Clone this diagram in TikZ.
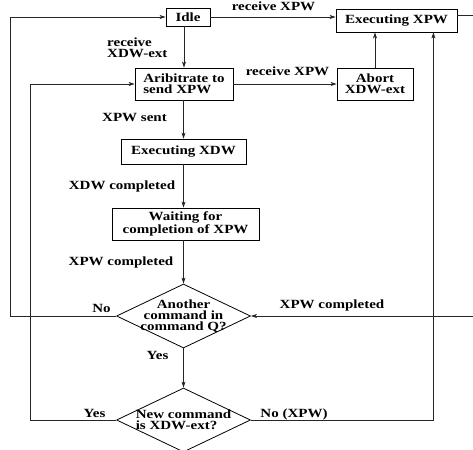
\documentclass[tikz,border=0pt]{standalone}
\usepackage{fontspec}
\setmainfont{Liberation Serif}[FakeStretch=1.2]
\usetikzlibrary{shapes.geometric,arrows.meta}
\tikzset{
  base/.style={font=\fontsize{12.5}{11.5}\selectfont\bfseries, inner sep=0pt},
  box/.style={base, draw=black, line width=0.8pt, rectangle},
  dia/.style={draw=black, line width=0.8pt, diamond, minimum width=134pt, minimum height=64pt, inner sep=0pt},
  lbl/.style={base},
  conn/.style={line width=0.8pt, draw=black!85, -{Stealth[length=6pt,width=4pt,inset=1.5pt]}},
  plain/.style={line width=0.8pt, draw=black!85},
}
\begin{document}
\begin{tikzpicture}[x=1pt,y=-1pt]
\useasboundingbox (0,0) rectangle (473,449);
% states
\node[box, minimum width=44pt, minimum height=18pt] (idle) at (188,17) {Idle};
\node[box, minimum width=121pt, minimum height=23pt] (exxpw) at (396.5,20.5) {Executing XPW};
\node[box, minimum width=98pt, minimum height=32pt, align=left] (arib) at (184,84) {Aribitrate to\\ send XPW};
\node[box, minimum width=76pt, minimum height=32pt, align=center] (abort) at (375,84) {Abort\\XDW-ext};
\node[box, minimum width=125pt, minimum height=25pt] (exxdw) at (183.5,151.5) {Executing XDW};
\node[box, minimum width=147pt, minimum height=32pt, align=center] (wait) at (185.5,224) {Waiting for\\completion of XPW};
\node[dia] (d1) at (183.5,316) {};
\node[base, align=center, font=\fontsize{12.5}{11.2}\selectfont\bfseries] (d1t) at (d1.center) {Another\\command in\\command Q?};
\node[dia] (d2) at (183.5,420) {};
\node[base, align=left] (d2t) at (d2.center) {New command\\is XDW-ext?};
% helper coordinates
\coordinate (xl) at (10,0);
\coordinate (xi) at (30,0);
\coordinate (xr) at (473,0);
% connectors
\draw[conn] (idle.south -| arib.north) -- (arib.north);
\draw[conn] (idle.east) -- (idle.east -| exxpw.west);
\draw[conn] (arib.east) -- (arib.east -| abort.west);
\draw[conn] (abort.north) -- (abort.north |- exxpw.south);
\draw[conn] (arib.south -| exxdw.north) -- (exxdw.north);
\draw[conn] (exxdw.south) -- (exxdw.south |- wait.north);
\draw[conn] (wait.south -| d1.north) -- (d1.north);
\draw[conn] (d1.south) -- (d2.north);
\draw[conn] (d1.west) -- (d1.west -| xl) |- (idle.west);
\draw[conn] (d2.west) -- (d2.west -| xi) |- (arib.west);
\draw[conn] (d2.east) -| ([xshift=-24pt]exxpw.south east);
\draw[conn] (d1.east -| xr) -- (d1.east);
\draw[plain] ([yshift=5pt]exxpw.east) -- ([yshift=5pt]exxpw.east -| xr);
% labels
\node[lbl] (l1) at (273.5,6) {receive XPW};
\node[lbl, align=left, anchor=west] (l2) at (107,48) {receive\\XDW-ext};
\node[lbl] (l3) at (287.5,71.5) {receive XPW};
\node[lbl] (l4) at (134.5,118) {XPW sent};
\node[lbl] (l5) at (122,186) {XDW completed};
\node[lbl] (l6) at (121,262) {XPW completed};
\node[lbl] (l7) at (101.5,308.5) {No};
\node[lbl] (l8) at (157.5,355) {Yes};
\node[lbl] (l9) at (94.5,413.5) {Yes};
\node[lbl] (l10) at (294,414) {No (XPW)};
\node[lbl] (l11) at (332,305.5) {XPW completed};
\end{tikzpicture}
\end{document}
